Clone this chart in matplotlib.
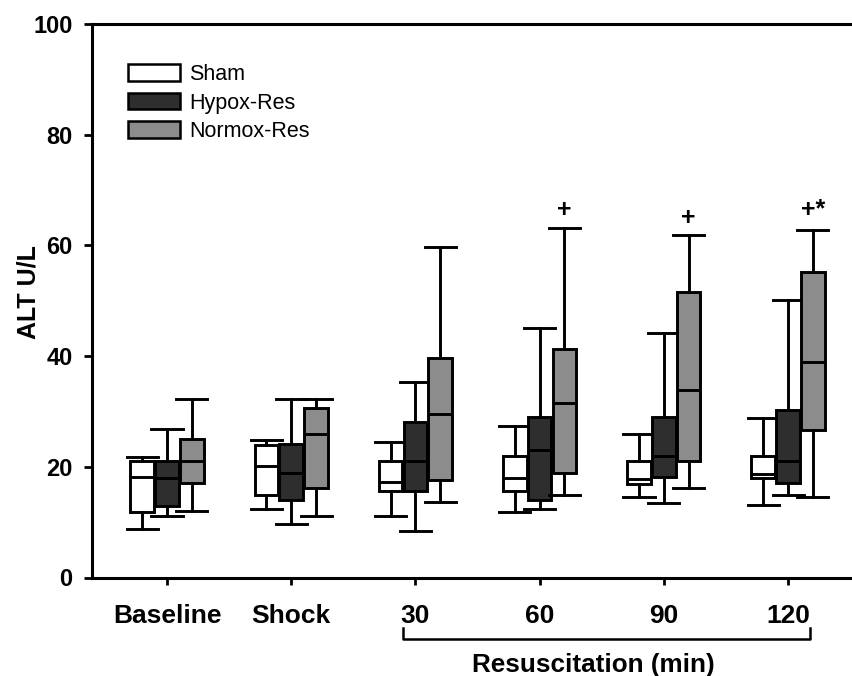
import matplotlib
matplotlib.use("Agg")
import matplotlib.pyplot as plt
from matplotlib.patches import Patch

plt.rcParams['font.family'] = ['Liberation Sans', 'DejaVu Sans']

# categories on the x axis
categories = ['Baseline', 'Shock', '30', '60', '90', '120']
groups = ['Sham', 'Hypox-Res', 'Normox-Res']
colors = ['#ffffff', '#2e2e2e', '#8c8c8c']

# box stats (ALT U/L)
sham_lo = [8.7, 12.4, 11.2, 11.8, 14.6, 13.1]
sham_q1 = [11.8, 14.9, 15.7, 15.7, 16.9, 17.9]
sham_med = [18.1, 20.1, 17.2, 17.9, 17.8, 18.7]
sham_q3 = [21.0, 24.0, 21.0, 22.0, 21.1, 22.0]
sham_hi = [21.7, 24.8, 24.4, 27.3, 26.0, 28.8]

hypox_lo = [11.2, 9.6, 8.4, 12.4, 13.4, 14.9]
hypox_q1 = [13.0, 14.0, 15.7, 14.0, 18.1, 17.0]
hypox_med = [17.9, 18.8, 21.0, 23.0, 22.0, 21.0]
hypox_q3 = [21.0, 24.1, 28.1, 29.0, 29.0, 30.2]
hypox_hi = [26.9, 32.3, 35.4, 45.1, 44.2, 50.2]

normox_lo = [12.1, 11.2, 13.7, 14.9, 16.1, 14.6]
normox_q1 = [17.0, 16.1, 17.6, 18.8, 21.1, 26.7]
normox_med = [21.0, 26.0, 29.6, 31.6, 33.9, 39.0]
normox_q3 = [25.1, 30.7, 39.6, 41.2, 51.6, 55.2]
normox_hi = [32.2, 32.3, 59.8, 63.1, 61.9, 62.8]

# significance marks above Normox-Res boxes
sig_idx = [3, 4, 5]
sig_text = ['+', '+', '+*']
sig_y = [66.4, 64.9, 66.4]

stats = [
    (sham_lo, sham_q1, sham_med, sham_q3, sham_hi),
    (hypox_lo, hypox_q1, hypox_med, hypox_q3, hypox_hi),
    (normox_lo, normox_q1, normox_med, normox_q3, normox_hi),
]

fig = plt.figure(figsize=(8.52, 6.76), dpi=100)
ax = fig.add_axes([92 / 852, 1 - 577.5 / 676, 1 - 92 / 852, 553.5 / 676])

lw = 2.1
offsets = [-0.2, 0.0, 0.2]
for g, (lo, q1, med, q3, hi) in enumerate(stats):
    bxp_stats = []
    for i in range(len(categories)):
        bxp_stats.append({'whislo': lo[i], 'q1': q1[i], 'med': med[i],
                          'q3': q3[i], 'whishi': hi[i], 'fliers': []})
    pos = [i + offsets[g] for i in range(len(categories))]
    ax.bxp(bxp_stats, positions=pos, widths=0.19, patch_artist=True,
           showfliers=False, manage_ticks=False,
           boxprops=dict(facecolor=colors[g], edgecolor='black', linewidth=lw),
           medianprops=dict(color='black', linewidth=lw),
           whiskerprops=dict(color='black', linewidth=lw),
           capprops=dict(color='black', linewidth=lw),
           capwidths=0.25)

for i, t, y in zip(sig_idx, sig_text, sig_y):
    ax.text(i + 0.2, y, t, ha='center', va='center', fontsize=18,
            fontweight='bold')

ax.set_xlim(-0.604, 5.515)
ax.set_ylim(0, 100)
ax.set_yticks([0, 20, 40, 60, 80, 100])
ax.set_xticks(range(len(categories)))
ax.set_xticklabels(categories, fontsize=19, fontweight='bold')
for lab in ax.get_yticklabels():
    lab.set_fontsize(17)
    lab.set_fontweight('bold')
ax.tick_params(axis='x', direction='out', length=5, width=2, pad=14)
ax.tick_params(axis='y', direction='out', length=6, width=2, pad=8)
ax.spines['right'].set_visible(False)
for s in ['left', 'bottom', 'top']:
    ax.spines[s].set_linewidth(2.2)

ax.set_ylabel('ALT U/L', fontsize=18, fontweight='bold')
ax.yaxis.set_label_coords(-0.068, 0.516)

# bracket under resuscitation time points
tr = ax.get_xaxis_transform()
ax.plot([1.90, 1.90, 5.18, 5.18], [-0.091, -0.111, -0.111, -0.091],
        color='black', linewidth=1.8, transform=tr, clip_on=False)
ax.text(3.43, -0.158, 'Resuscitation (min)', transform=tr, ha='center',
        va='center', fontsize=18.8, fontweight='bold')

handles = [Patch(facecolor=c, edgecolor='black', linewidth=1.8) for c in colors]
fig.legend(handles, groups, loc='upper left',
           bbox_to_anchor=(128 / 852, 1 - 64 / 676), frameon=False,
           fontsize=15.5, handlelength=2.4, handleheight=0.8,
           handletextpad=0.45, labelspacing=0.35, borderpad=0,
           borderaxespad=0)

fig.savefig('out.png', dpi=100)
